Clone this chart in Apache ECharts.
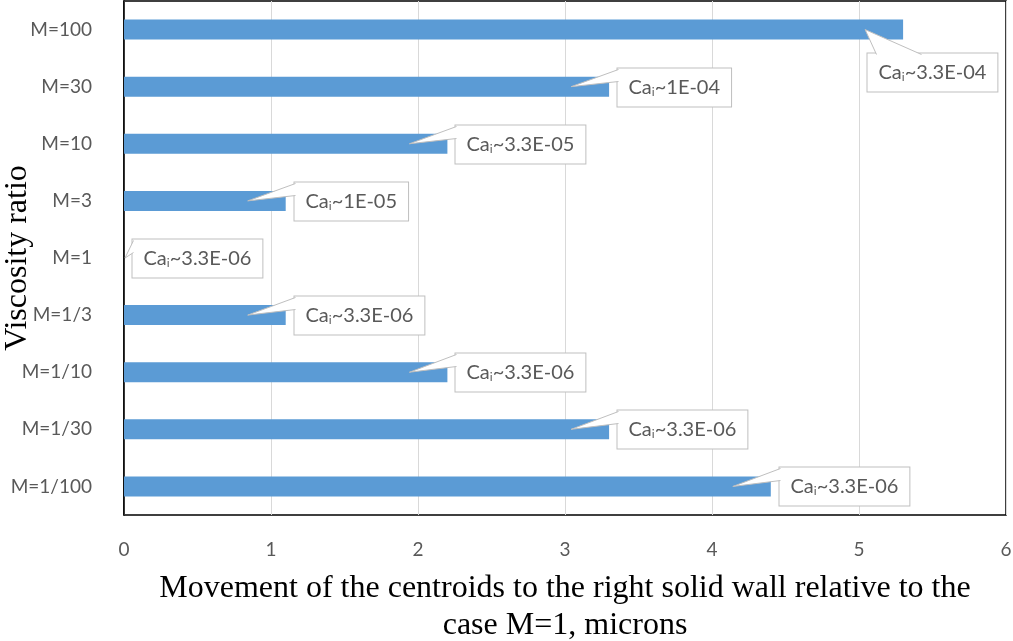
<!DOCTYPE html>
<html>
<head>
<meta charset="utf-8">
<script src="https://cdn.jsdelivr.net/npm/echarts@6/dist/echarts.min.js"></script>
<style>html,body{margin:0;padding:0;background:#fff}#c{width:1013px;height:641px}</style>
</head>
<body>
<div id="c"></div>
<script>
const categories = ['M=100','M=30','M=10','M=3','M=1','M=1/3','M=1/10','M=1/30','M=1/100'];
const movement = [5.3, 3.3, 2.2, 1.1, 0, 1.1, 2.2, 3.3, 4.4];
const caValues = ['3.3E-04','1E-04','3.3E-05','1E-05','3.3E-06','3.3E-06','3.3E-06','3.3E-06','3.3E-06'];
const xMin = 0, xMax = 6, xStep = 1;

const gray = '#595959';
const labelFont = 'Lato';

const chart = echarts.init(document.getElementById('c'), null, {renderer: 'canvas'});

function renderCallout(params, api) {
  const idx = params.dataIndex;
  const end = api.coord([api.value(0), api.value(1)]);
  const left = params.coordSys.x;
  const tipX = Math.max(left + 1, end[0] - 38);
  const cy = end[1];
  const textStyle = {
    text: '{a|Ca}{s|i}{a|~' + caValues[idx] + '}',
    rich: {
      a: {fontSize: 20, fontFamily: labelFont, fill: gray, lineHeight: 22},
      s: {fontSize: 12, fontFamily: labelFont, fill: gray, lineHeight: 11, verticalAlign: 'bottom'}
    },
    backgroundColor: '#fff',
    borderColor: '#bfbfbf',
    borderWidth: 1,
    padding: [8, 11, 8, 11],
    align: 'left',
    verticalAlign: 'top'
  };
  let L, T, wedge;
  if (idx === 0) {
    L = Math.round(tipX + 2) + 0.5;
    T = Math.round(cy + 23) + 0.5;
    wedge = [[tipX, cy], [L + 9, T + 1], [L + 54, T + 1]];
  } else {
    L = Math.round(end[0] + 8) + 0.5;
    T = Math.round(cy - 19) + 0.5;
    wedge = [[tipX, cy], [L + 1, T + 1], [L + 1, T + 13]];
  }
  return {
    type: 'group',
    children: [
      {type: 'text', x: L, y: T, style: textStyle, z2: 10},
      {type: 'polygon', shape: {points: wedge}, style: {fill: '#fff', stroke: null}, z2: 11},
      {type: 'polyline', shape: {points: [wedge[1], wedge[0], wedge[2]]}, style: {stroke: '#bfbfbf', lineWidth: 1, fill: null}, z2: 12}
    ]
  };
}

const option = {
  animation: false,
  backgroundColor: '#fff',
  grid: {left: 124, right: 7, top: 1, bottom: 126, show: true, borderColor: '#000', borderWidth: 1.5,
         containLabel: false, outerBoundsMode: 'none'},
  xAxis: {
    type: 'value', min: xMin, max: xMax, interval: xStep,
    axisLine: {show: false}, axisTick: {show: false},
    splitLine: {show: true, lineStyle: {color: '#d9d9d9', width: 1}},
    axisLabel: {color: gray, fontFamily: labelFont, fontSize: 19, margin: 25},
    name: 'Movement of the centroids to the right solid wall relative to the\ncase M=1, microns',
    nameLocation: 'middle', nameGap: 55, nameMoveOverlap: false,
    nameTextStyle: {fontFamily: 'Liberation Serif', fontSize: 32, color: '#000', lineHeight: 37, verticalAlign: 'top'}
  },
  yAxis: {
    type: 'category', data: categories, inverse: true,
    axisLine: {show: true, lineStyle: {color: '#000', width: 1.5}}, axisTick: {show: false},
    axisLabel: {color: gray, fontFamily: labelFont, fontSize: 19, margin: 32},
    name: 'Viscosity ratio', nameLocation: 'middle', nameGap: 106, nameMoveOverlap: false,
    nameTextStyle: {fontFamily: 'Liberation Serif', fontSize: 32, color: '#000', verticalAlign: 'middle'}
  },
  series: [
    {
      type: 'bar', data: movement, barWidth: 20,
      itemStyle: {color: '#5b9bd5'}, z: 2
    },
    {
      type: 'custom', renderItem: renderCallout, z: 5,
      data: movement.map((v, i) => [v, i]),
      encode: {x: 0, y: 1}, clip: false
    }
  ]
};
chart.setOption(option);
</script>
</body>
</html>
